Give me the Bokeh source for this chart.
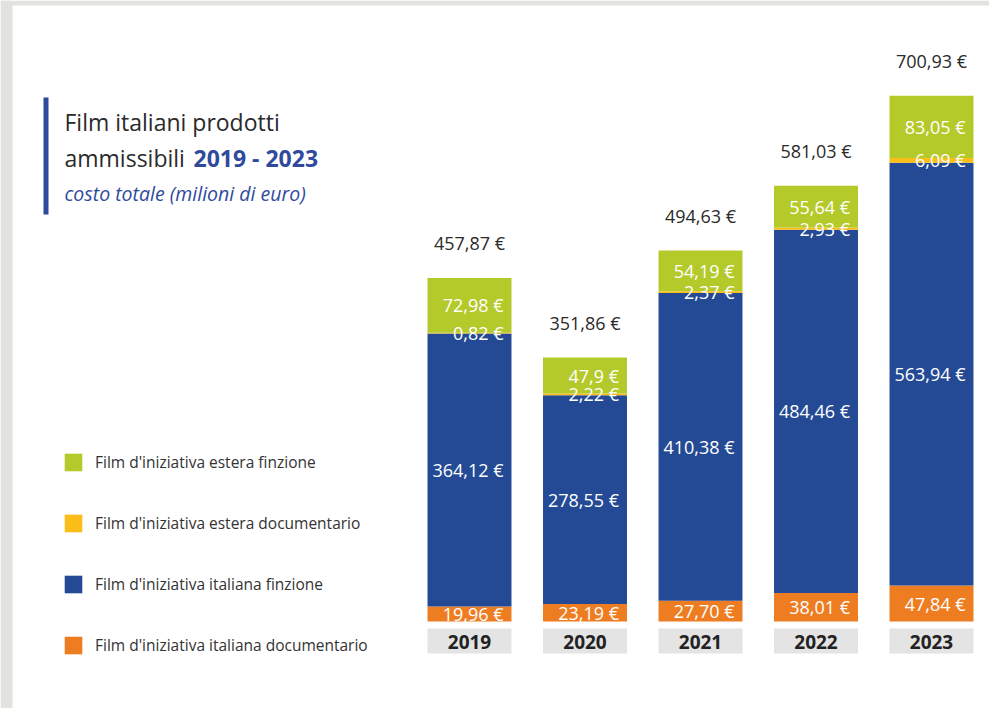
from bokeh.plotting import figure
from bokeh.models import ColumnDataSource, Label, Legend, LegendItem, BoxAnnotation, Range1d
from bokeh.core.properties import value
from bokeh.embed import file_html
from bokeh.resources import INLINE

# ---- data ----
years = [2019, 2020, 2021, 2022, 2023]
year_labels = ["2019", "2020", "2021", "2022", "2023"]
ita_doc = [19.96, 23.19, 27.70, 38.01, 47.84]
ita_fin = [364.12, 278.55, 410.38, 484.46, 563.94]
est_doc = [0.82, 2.22, 2.37, 2.93, 6.09]
est_fin = [72.98, 47.9, 54.19, 55.64, 83.05]
totals = [457.87, 351.86, 494.63, 581.03, 700.93]
ita_doc_lbl = ["19,96 €", "23,19 €", "27,70 €", "38,01 €", "47,84 €"]
ita_fin_lbl = ["364,12 €", "278,55 €", "410,38 €", "484,46 €", "563,94 €"]
est_doc_lbl = ["0,82 €", "2,22 €", "2,37 €", "2,93 €", "6,09 €"]
est_fin_lbl = ["72,98 €", "47,9 €", "54,19 €", "55,64 €", "83,05 €"]
total_lbl = ["457,87 €", "351,86 €", "494,63 €", "581,03 €", "700,93 €"]
series_names = ["Film d'iniziativa estera finzione", "Film d'iniziativa estera documentario",
                "Film d'iniziativa italiana finzione", "Film d'iniziativa italiana documentario"]

# ---- styles ----
GREEN, YELLOW, BLUE, ORANGE = "#b4c92a", "#fbbd18", "#244a95", "#ee7d22"
TITLE_BLUE = "#2f4a9c"
FONT = "Open Sans"
W, H = 989, 708
BAR_W = 0.727
SPACING_PX = 115.5
XS = 2019 - 469 / SPACING_PX
XE = XS + W / SPACING_PX
PX_PER_UNIT = 0.75
YS = -(H - 621) / PX_PER_UNIT
YE = YS + H / PX_PER_UNIT


def fx(ix):
    return XS + ix / W * (XE - XS)


def fy(iy):
    return YE - iy / H * (YE - YS)


p = figure(width=W, height=H, output_backend="svg", toolbar_location=None,
           x_range=Range1d(XS, XE), y_range=Range1d(YS, YE), min_border=0,
           background_fill_color="white", border_fill_color="white")
p.axis.visible = False
p.grid.visible = False
p.outline_line_color = None

# page frame strips
p.add_layout(BoxAnnotation(left=fx(0), right=fx(12), fill_color="#e4e2df", fill_alpha=1, line_color=None))
p.add_layout(BoxAnnotation(top=fy(0), bottom=fy(5), fill_color="#e4e2df", fill_alpha=1, line_color=None))

src = ColumnDataSource(dict(x=years, ita_doc=ita_doc, ita_fin=ita_fin, est_doc=est_doc, est_fin=est_fin))
stack = ["ita_doc", "ita_fin", "est_doc", "est_fin"]
rs = p.vbar_stack(stack, x="x", width=BAR_W, source=src,
                  color=[ORANGE, BLUE, YELLOW, GREEN], line_color=None)

# segment labels
lx, ly, lt = [], [], []
for i, yr in enumerate(years):
    b = 0.0
    for vals, lbls in ((ita_doc, ita_doc_lbl), (ita_fin, ita_fin_lbl), (est_doc, est_doc_lbl), (est_fin, est_fin_lbl)):
        v = vals[i]
        lx.append(yr + BAR_W / 2)
        ly.append(b + v / 2)
        lt.append(lbls[i])
        b += v
p.text(x=lx, y=ly, text=lt, text_align="right", text_baseline="middle", x_offset=-8,
       text_color="white", text_font=value(FONT), text_font_size="18px")

# totals
p.text(x=years, y=totals, text=total_lbl, text_align="center", text_baseline="middle", y_offset=-35,
       text_color="#2a2a2a", text_font=value(FONT), text_font_size="18px")

# year boxes
p.vbar(x=years, top=fy(628), bottom=fy(653), width=BAR_W, color="#e4e4e4", line_color=None)
p.text(x=years, y=[fy(641)] * 5, text=year_labels, text_align="center", text_baseline="middle",
       text_color="#222222", text_font=value(FONT), text_font_size="19px", text_font_style="bold")

# title
p.add_layout(BoxAnnotation(left=fx(43), right=fx(48), top=fy(97), bottom=fy(214),
                           fill_color=TITLE_BLUE, fill_alpha=1, line_color=None))
p.add_layout(Label(x=fx(64), y=fy(121), text="Film italiani prodotti", text_baseline="middle",
                   text_font=FONT, text_font_size="23px", text_color="#2a2a2a"))
p.add_layout(Label(x=fx(64), y=fy(157), text="ammissibili", text_baseline="middle",
                   text_font=FONT, text_font_size="23px", text_color="#2a2a2a"))
p.add_layout(Label(x=fx(193), y=fy(157), text="2019 - 2023", text_baseline="middle",
                   text_font=FONT, text_font_size="23px", text_font_style="bold", text_color=TITLE_BLUE))
p.add_layout(Label(x=fx(64), y=fy(193), text="costo totale (milioni di euro)", text_baseline="middle",
                   text_font=FONT, text_font_size="19.5px", text_font_style="italic", text_color=TITLE_BLUE))

# legend
items = [LegendItem(label=series_names[k], renderers=[rs[3 - k]]) for k in range(4)]
legend = Legend(items=items, location=(62, 52), orientation="vertical",
                glyph_width=22, glyph_height=22, spacing=39, label_standoff=11,
                label_text_font=FONT, label_text_font_size="15.5px", label_text_color="#333333",
                label_height=22, padding=0, margin=0, border_line_alpha=0, background_fill_alpha=0)
p.add_layout(legend)

open("out.html", "w").write(file_html(p, INLINE))
